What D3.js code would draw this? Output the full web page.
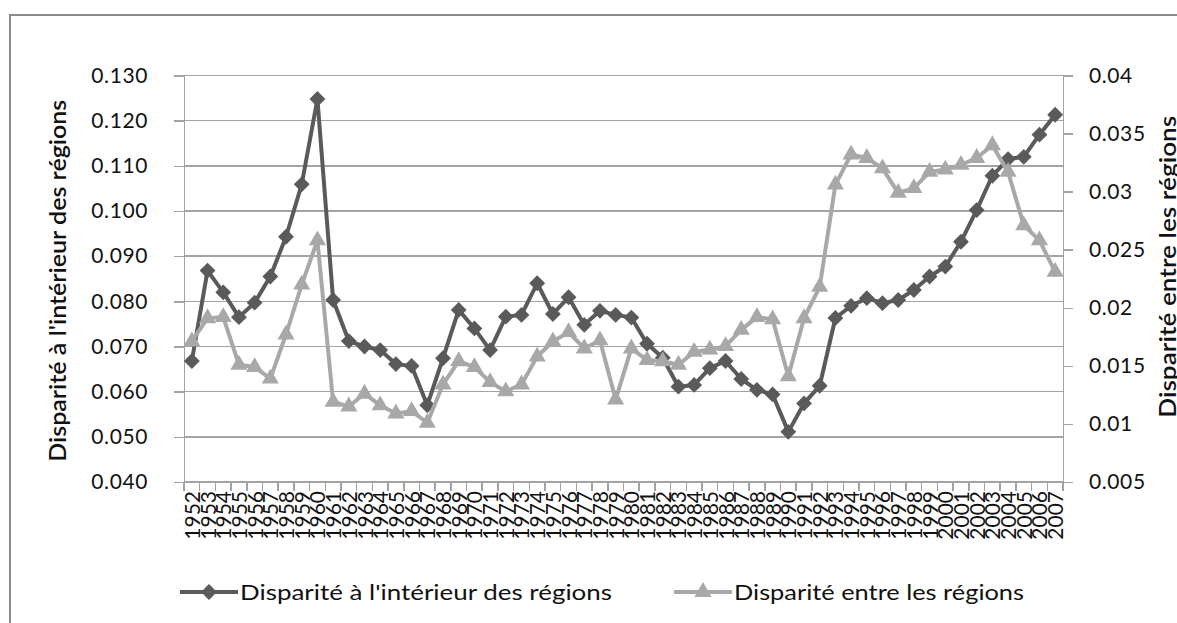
<!DOCTYPE html>
<html>
  <head>
    <meta charset="utf-8">
    <title>Disparités régionales</title>
    <style>
      body {
        overflow: hidden;
        margin: 0px;
        background: white;
      }

      text {
        font-family: Lato, "Open Sans", sans-serif;
        fill: #111;
      }

      .grid line {
        stroke: #a3a3a3;
        stroke-width: 1.5px;
        shape-rendering: crispEdges;
      }

      .axis path, .axis line {
        stroke: #a3a3a3;
        stroke-width: 1.5px;
        shape-rendering: crispEdges;
      }
    </style>
  </head>
  <body>
    <svg id="container" width="1177" height="623"></svg>
    <script src="https://cdn.jsdelivr.net/npm/d3@7/dist/d3.min.js"></script>

    <script type="text/javascript">
      var years = d3.range(1952, 2008).map(String);

      // Disparité à l'intérieur des régions (left axis)
      var within = [
        0.0668, 0.0868, 0.0820, 0.0765, 0.0797, 0.0855, 0.0943, 0.1059, 0.1248, 0.0803,
        0.0712, 0.0700, 0.0692, 0.0661, 0.0657, 0.0570, 0.0674, 0.0781, 0.0740, 0.0692,
        0.0766, 0.0770, 0.0840, 0.0772, 0.0809, 0.0748, 0.0779, 0.0770, 0.0764, 0.0706,
        0.0675, 0.0611, 0.0615, 0.0652, 0.0668, 0.0628, 0.0604, 0.0594, 0.0511, 0.0574,
        0.0613, 0.0763, 0.0790, 0.0807, 0.0796, 0.0803, 0.0825, 0.0855, 0.0877, 0.0932,
        0.1002, 0.1078, 0.1115, 0.1120, 0.1169, 0.1213
      ];

      // Disparité entre les régions (right axis)
      var between = [
        0.0171, 0.0191, 0.0192, 0.0151, 0.0149, 0.0139, 0.0177, 0.0220, 0.0258, 0.0119,
        0.0115, 0.0126, 0.0116, 0.0109, 0.0111, 0.0101, 0.0134, 0.0154, 0.0149, 0.0136,
        0.0128, 0.0134, 0.0158, 0.0171, 0.0179, 0.0165, 0.0172, 0.0121, 0.0165, 0.0155,
        0.0154, 0.0151, 0.0162, 0.0164, 0.0167, 0.0181, 0.0192, 0.0190, 0.0141, 0.0191,
        0.0218, 0.0306, 0.0332, 0.0329, 0.0320, 0.0299, 0.0303, 0.0317, 0.0319, 0.0323,
        0.0329, 0.0340, 0.0317, 0.0271, 0.0258, 0.0231
      ];

      var leftTicks = d3.range(0.04, 0.1301, 0.01);
      var rightTicks = d3.range(0.005, 0.0401, 0.005);
      var seriesNames = ["Disparité à l'intérieur des régions", "Disparité entre les régions"];

      var svg = d3.select('#container'),
        plotLeft = 184, plotRight = 1063, plotTop = 75.5, plotBottom = 482;

      // outer chart frame (cropped on right/bottom)
      svg.append('rect')
        .attr('x', 10).attr('y', 15)
        .attr('width', 1200).attr('height', 650)
        .attr('fill', 'none')
        .attr('stroke', '#8c8c8c')
        .attr('stroke-width', 2);

      var x = d3.scaleBand().domain(years).range([plotLeft, plotRight]).paddingInner(0).paddingOuter(0);
      var yL = d3.scaleLinear().domain([0.04, 0.13]).range([plotBottom, plotTop]);
      var yR = d3.scaleLinear().domain([0.005, 0.04]).range([plotBottom, plotTop]);
      var cx = function(d, i) { return x(years[i]) + x.bandwidth() / 2; };

      /*
        Grid
      */
      svg.append('g')
        .attr('class', 'grid')
        .selectAll('line')
        .data(leftTicks)
        .enter().append('line')
        .attr('x1', plotLeft).attr('x2', plotRight)
        .attr('y1', function(d) { return yL(d); })
        .attr('y2', function(d) { return yL(d); });

      /*
        Axes
      */
      var gl = svg.append('g')
        .attr('class', 'axis')
        .attr('transform', 'translate(' + plotLeft + ',0)')
        .call(d3.axisLeft(yL).tickValues(leftTicks).tickFormat(d3.format('.3f')).tickSize(10).tickSizeOuter(0).tickPadding(26));
      gl.selectAll('text').style('font-size', '21px').style('letter-spacing', '0.6px').attr('fill', '#111');

      var gr = svg.append('g')
        .attr('class', 'axis')
        .attr('transform', 'translate(' + plotRight + ',0)')
        .call(d3.axisRight(yR).tickValues(rightTicks).tickFormat(function(d) { return d3.format('.3~f')(d); }).tickSize(10).tickSizeOuter(0).tickPadding(16));
      gr.selectAll('text').style('font-size', '21px').style('letter-spacing', '0.6px').attr('fill', '#111');

      // category axis: ticks on band boundaries
      var gx = svg.append('g').attr('class', 'axis');
      gx.append('line')
        .attr('x1', plotLeft).attr('x2', plotRight)
        .attr('y1', plotBottom).attr('y2', plotBottom);
      gx.selectAll('.tk')
        .data(years.concat(['end']))
        .enter().append('line')
        .attr('class', 'tk')
        .attr('x1', function(d, i) { return plotLeft + i * x.bandwidth(); })
        .attr('x2', function(d, i) { return plotLeft + i * x.bandwidth(); })
        .attr('y1', plotBottom).attr('y2', plotBottom + 9);
      gx.selectAll('text')
        .data(years)
        .enter().append('text')
        .attr('transform', function(d, i) { return 'translate(' + (cx(d, i) + 8) + ',' + (plotBottom + 9) + ') rotate(-90)'; })
        .attr('text-anchor', 'end')
        .style('font-size', '21px')
        .text(function(d) { return d; });

      /*
        Axis titles
      */
      svg.append('text')
        .attr('transform', 'translate(66,' + ((plotTop + plotBottom) / 2 + 2) + ') rotate(-90)')
        .attr('text-anchor', 'middle')
        .style('font-size', '22px')
        .style('font-weight', 600)
        .attr('textLength', 362)
        .attr('lengthAdjust', 'spacingAndGlyphs')
        .text(seriesNames[0]);

      svg.append('text')
        .attr('transform', 'translate(1176,' + ((plotTop + plotBottom) / 2 - 12) + ') rotate(-90)')
        .attr('text-anchor', 'middle')
        .style('font-size', '22px')
        .style('font-weight', 600)
        .attr('textLength', 302)
        .attr('lengthAdjust', 'spacingAndGlyphs')
        .text(seriesNames[1]);

      /*
        Series
      */
      var diamond = d3.symbol().type(d3.symbolDiamond2).size(160);
      var triangle = d3.symbol().type(d3.symbolTriangle2).size(210);

      svg.append('path')
        .datum(within)
        .attr('fill', 'none')
        .attr('stroke', '#5a5a5a')
        .attr('stroke-width', 4)
        .attr('stroke-linejoin', 'round')
        .attr('d', d3.line().x(cx).y(function(d) { return yL(d); }));

      svg.append('g').selectAll('path')
        .data(within)
        .enter().append('path')
        .attr('transform', function(d, i) { return 'translate(' + cx(d, i) + ',' + yL(d) + ')'; })
        .attr('d', diamond)
        .attr('fill', '#5a5a5a');

      svg.append('path')
        .datum(between)
        .attr('fill', 'none')
        .attr('stroke', '#a8a8a8')
        .attr('stroke-width', 4)
        .attr('stroke-linejoin', 'round')
        .attr('d', d3.line().x(cx).y(function(d) { return yR(d); }));

      svg.append('g').selectAll('path')
        .data(between)
        .enter().append('path')
        .attr('transform', function(d, i) { return 'translate(' + cx(d, i) + ',' + yR(d) + ')'; })
        .attr('d', triangle)
        .attr('fill', '#a8a8a8');

      /*
        Legend
      */
      var legend = [
        { x: 180, color: '#5a5a5a', sym: diamond, len: 372 },
        { x: 674, color: '#a8a8a8', sym: triangle, len: 290 }
      ];
      var lg = svg.append('g').selectAll('g')
        .data(legend)
        .enter().append('g')
        .attr('transform', function(d) { return 'translate(' + d.x + ',592)'; });
      lg.append('line')
        .attr('x1', 0).attr('x2', 58)
        .attr('stroke', function(d) { return d.color; })
        .attr('stroke-width', 4);
      lg.append('path')
        .attr('transform', 'translate(29,0)')
        .attr('d', function(d) { return d.sym(); })
        .attr('fill', function(d) { return d.color; });
      lg.append('text')
        .attr('x', 60)
        .attr('dy', '0.35em')
        .style('font-size', '22px')
        .attr('textLength', function(d) { return d.len; })
        .attr('lengthAdjust', 'spacingAndGlyphs')
        .text(function(d, i) { return seriesNames[i]; });
    </script>
  </body>
</html>
